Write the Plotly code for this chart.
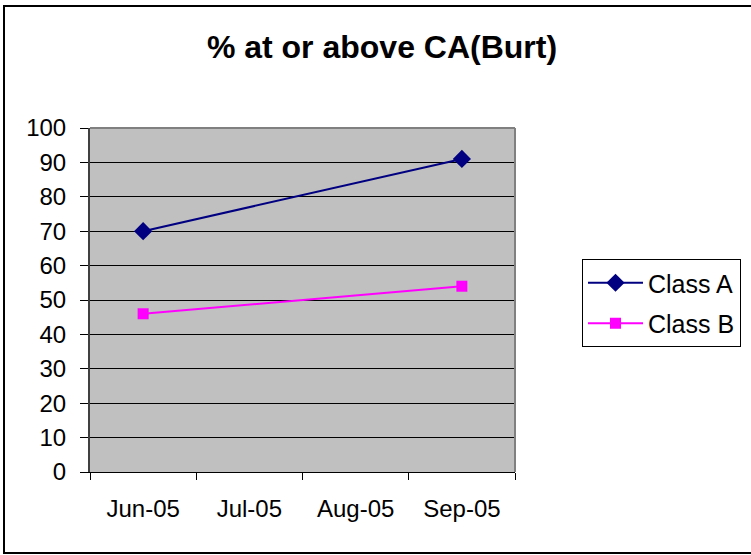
import plotly.graph_objects as go

categories = ["Jun-05", "Jul-05", "Aug-05", "Sep-05"]
point_months = ["Jun-05", "Sep-05"]
class_a = [70, 91]
class_b = [46, 54]
y_ticks = list(range(0, 101, 10))

W, H = 751, 555
L, R, T, B = 90, 515, 128, 472
pw, ph = R - L, B - T

def px_x(x):
    return (x - L) / pw

def px_y(y):
    return (B - y) / ph

fig = go.Figure()
fig.add_trace(go.Scatter(x=point_months, y=class_a, name="Class A", mode="lines+markers",
                         line=dict(color="#000080", width=2),
                         marker=dict(symbol="diamond", size=14, color="#000080"),
                         legendgroup="a"))
fig.add_trace(go.Scatter(x=point_months, y=class_b, name="Class B", mode="lines+markers",
                         line=dict(color="#FF00FF", width=2),
                         marker=dict(symbol="square", size=11, color="#FF00FF"),
                         legendgroup="b"))

font = "Liberation Sans, Arial, sans-serif"
fig.update_layout(
    width=W, height=H,
    margin=dict(l=L, r=W - R, t=T, b=H - B, pad=0, autoexpand=False),
    paper_bgcolor="white", plot_bgcolor="#C0C0C0",
    font=dict(family=font, size=23, color="black"),
    title=dict(text="<b>% at or above CA(Burt)</b>", x=382 / W, xanchor="center",
               y=1 - 47 / H, yanchor="middle", yref="container",
               font=dict(family=font, size=32, color="black")),
    showlegend=True,
    legend=dict(xref="container", yref="container", x=582 / W, y=1 - 259 / H,
                xanchor="left", yanchor="top",
                bordercolor="black", borderwidth=1, bgcolor="white",
                font=dict(family=font, size=25), itemwidth=55,
                tracegroupgap=5, traceorder="grouped"),
    xaxis=dict(type="category", categoryorder="array", categoryarray=categories,
               range=[-0.5, 3.5], tickson="boundaries", ticks="outside", ticklen=7,
               tickcolor="black", showgrid=False, showline=True, linecolor="black",
               linewidth=1, zeroline=False, ticklabelstandoff=15, fixedrange=True,
               tickfont=dict(size=24)),
    yaxis=dict(range=[0, 100], tickvals=y_ticks, ticks="outside", ticklen=8,
               tickcolor="black", showgrid=True, gridcolor="black", gridwidth=1,
               showline=True, linecolor="#404040", linewidth=2, zeroline=False,
               ticklabelstandoff=9, fixedrange=True, tickfont=dict(size=24)),
)

# plot-area border (top and right)
fig.add_shape(type="line", xref="paper", yref="paper", x0=0, x1=1, y0=1, y1=1,
              line=dict(color="#808080", width=2))
fig.add_shape(type="line", xref="paper", yref="paper", x0=1, x1=1, y0=0, y1=1,
              line=dict(color="#808080", width=2))
# outer chart border
fig.add_shape(type="rect", xref="paper", yref="paper",
              x0=px_x(4), x1=px_x(760), y0=px_y(553), y1=px_y(6),
              line=dict(color="black", width=2), fillcolor="rgba(0,0,0,0)")

fig.write_html("out.html", config={"displayModeBar": False},
               post_script="document.body.style.margin='0';")
